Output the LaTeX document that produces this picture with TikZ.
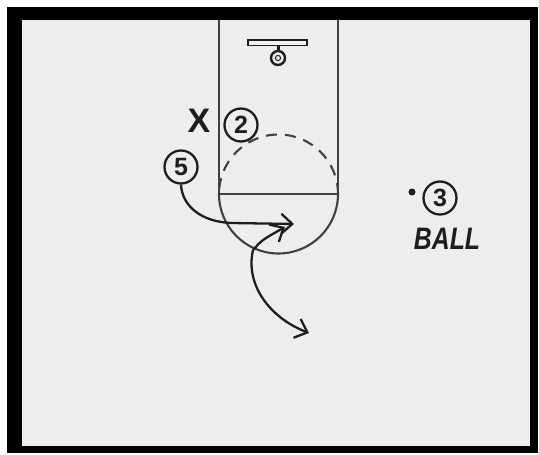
\documentclass[tikz,border=0pt]{standalone}
\usepackage{fontspec}
\setmainfont{Liberation Sans}
\usetikzlibrary{arrows.meta}
\definecolor{paper}{HTML}{EDEDED}
\definecolor{ink}{HTML}{1E1E1E}
\tikzset{
  court/.style={draw=ink!85,line width=2.1pt},
  player/.style={circle,draw=ink,line width=2.3pt,minimum size=33pt,inner sep=0pt,
    font=\bfseries\fontsize{25}{25}\selectfont,text=ink},
  cut/.style={draw=ink,line width=2.3pt,-{Straight Barb[length=11pt,width=20pt,line width=2.3pt]}},
}
\begin{document}
\begin{tikzpicture}[x=1pt,y=-1pt]
\useasboundingbox (0,0) rectangle (539,455);
% frame
\fill[white] (0,0) rectangle (539,455);
\fill[black] (7,7) rectangle (538,453);
\fill[paper] (22,20) rectangle (530,446);
% lane
\draw[court] (219,20) -- (219,194) -- (338,194) -- (338,20);
% free throw circle
\draw[court,dashed,dash pattern=on 11pt off 8pt] (338,194) arc[start angle=0,end angle=180,radius=59.5pt];
\draw[court] (219,194) arc[start angle=180,end angle=360,radius=59.5pt];
% backboard and rim
\draw[ink,line width=1.8pt,fill=paper!70] (248,40) rectangle (307,45.5);
\draw[ink,line width=3pt] (278,45) -- (278,52);
\node[circle,draw=ink,line width=2.4pt,minimum size=14pt,inner sep=0pt] (rim) at (278,58) {};
\draw[ink,line width=1pt] (rim.center) circle (2.6pt);
% players
\node[font=\bfseries\fontsize{34}{34}\selectfont,text=ink,inner sep=0pt] (X) at (199,121) {X};
\node[player] (p2) at (241,125) {2};
\node[player] (p5) at (181,167) {5};
\node[player] (p3) at (440,198) {3};
\fill[ink] (412,192) circle (3.5pt) coordinate (ball);
\node[font=\bfseries\itshape\fontsize{31}{31}\selectfont,text=ink,xscale=0.8,inner sep=0pt] (balltext) at (447,239) {BALL};
% cuts
\coordinate (c5) at (294,224);
\draw[cut] (p5.south) .. controls (182,205) and (200,222) .. (232,223) -- (c5);
\coordinate (j) at (253,250);
\coordinate (up) at (285,227);
\coordinate (dn) at (309,333);
\draw[cut] (j) .. controls (262,240) .. (up);
\draw[cut] (j) .. controls (245,285) and (270,318) .. (dn);
\end{tikzpicture}
\end{document}
